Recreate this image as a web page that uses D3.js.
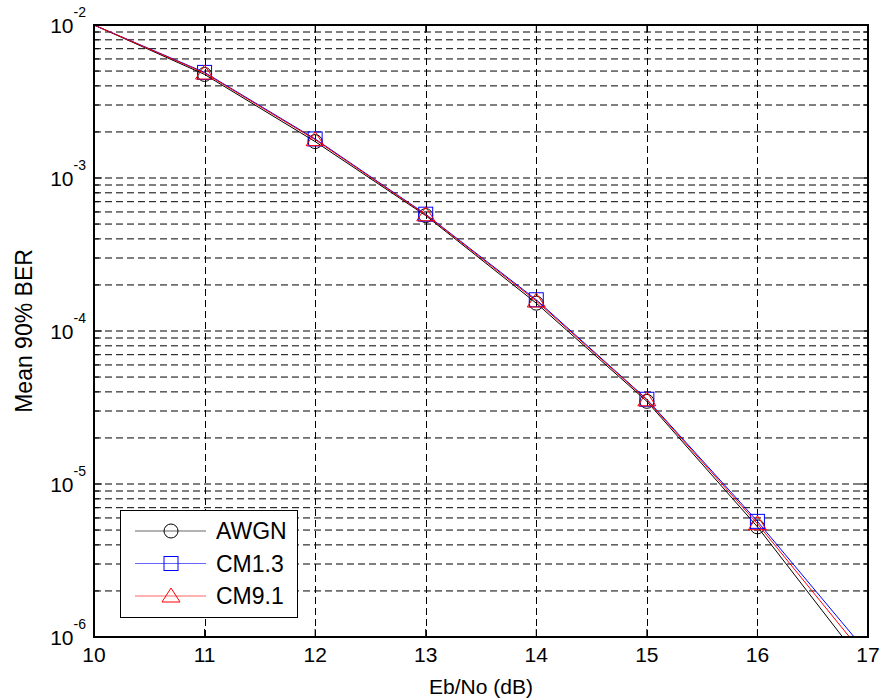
<!DOCTYPE html>
<html>
<head>
<meta charset="utf-8">
<script src="https://cdn.jsdelivr.net/npm/d3@7"></script>
<style>
  body { margin: 0; background: #fff; }
  text { font-family: Arial, "Liberation Sans", Helvetica, sans-serif; fill: #000; }
</style>
</head>
<body>
<svg id="chart" width="882" height="699"></svg>
<script>
// Eb/No sweep (dB) and mean 90% BER for each channel model
const ebno = [10, 11, 12, 13, 14, 15, 16, 17];
const markerEbno = [11, 12, 13, 14, 15, 16];
const awgn = [1e-2, 4.75e-3, 1.73e-3, 5.68e-4, 1.52e-4, 3.47e-5, 5.25e-6, 6.1e-7];
const cm13 = [1e-2, 4.90e-3, 1.80e-3, 5.80e-4, 1.60e-4, 3.58e-5, 5.70e-6, 7.8e-7];
const cm91 = [1e-2, 4.85e-3, 1.78e-3, 5.75e-4, 1.57e-4, 3.55e-5, 5.50e-6, 7.1e-7];
const seriesNames = ["AWGN", "CM1.3", "CM9.1"];
const xTickValues = [10, 11, 12, 13, 14, 15, 16, 17];
const yDecadeExponents = [-6, -5, -4, -3, -2];

const series = [
  { name: seriesNames[0], values: awgn, color: "#000000", marker: "circle" },
  { name: seriesNames[1], values: cm13, color: "#0000ff", marker: "square" },
  { name: seriesNames[2], values: cm91, color: "#ff0000", marker: "triangle" }
];

const W = 882, H = 699;
const m = { left: 94, right: 14, top: 25, bottom: 62 };
const svg = d3.select("#chart");

const x = d3.scaleLinear().domain([10, 17]).range([m.left, W - m.right]);
const y = d3.scaleLog().domain([1e-6, 1e-2]).range([H - m.bottom, m.top]);

const x0 = x.range()[0], x1 = x.range()[1];
const yB = y.range()[0], yT = y.range()[1];

// minor log positions 2..9 within each decade, plus decades
const minorVals = [];
for (let e = -6; e < -2; e++) {
  for (let k = 2; k <= 9; k++) minorVals.push(k * Math.pow(10, e));
}
const decadeVals = yDecadeExponents.map(e => Math.pow(10, e));

// dashed grid
const grid = svg.append("g").attr("stroke", "#000").attr("stroke-width", 1)
  .attr("stroke-dasharray", "7,4").attr("fill", "none");
grid.selectAll("line.hy").data(minorVals.concat(decadeVals.slice(1, -1))).join("line")
  .attr("x1", x0).attr("x2", x1)
  .attr("y1", d => y(d)).attr("y2", d => y(d));
grid.selectAll("line.vx").data(xTickValues.slice(1, -1)).join("line")
  .attr("class", "vx")
  .attr("x1", d => Math.round(x(d)) + 0.5).attr("x2", d => Math.round(x(d)) + 0.5)
  .attr("y1", yT).attr("y2", yB);

// clip for data curves
svg.append("clipPath").attr("id", "plotclip").append("rect")
  .attr("x", x0).attr("y", yT).attr("width", x1 - x0).attr("height", yB - yT);

const line = d3.line().x(d => x(d[0])).y(d => y(d[1]));
const plot = svg.append("g").attr("clip-path", "url(#plotclip)");

function drawMarker(g, type, cx, cy, color) {
  if (type === "circle") {
    g.append("circle").attr("cx", cx).attr("cy", cy).attr("r", 7)
      .attr("fill", "none").attr("stroke", color).attr("stroke-width", 1);
  } else if (type === "square") {
    g.append("rect").attr("x", cx - 7).attr("y", cy - 7).attr("width", 14).attr("height", 14)
      .attr("fill", "none").attr("stroke", color).attr("stroke-width", 1);
  } else {
    g.append("path")
      .attr("d", `M${cx},${cy - 8}L${cx + 9},${cy + 6}L${cx - 9},${cy + 6}Z`)
      .attr("fill", "none").attr("stroke", color).attr("stroke-width", 1);
  }
}

series.forEach(s => {
  const pts = ebno.map((e, i) => [e, s.values[i]]);
  plot.append("path").datum(pts)
    .attr("d", line).attr("fill", "none")
    .attr("stroke", s.color).attr("stroke-width", 1);
  const mg = plot.append("g");
  pts.filter(p => markerEbno.includes(p[0]))
    .forEach(p => drawMarker(mg, s.marker, x(p[0]), y(p[1]), s.color));
});

// axes box
svg.append("rect").attr("x", x0).attr("y", yT).attr("width", x1 - x0).attr("height", yB - yT)
  .attr("fill", "none").attr("stroke", "#000").attr("stroke-width", 2);

// ticks (inward, both sides)
const ticks = svg.append("g").attr("stroke", "#000").attr("stroke-width", 1);
xTickValues.forEach(v => {
  const px = x(v);
  ticks.append("line").attr("x1", px).attr("x2", px).attr("y1", yB).attr("y2", yB - 8);
  ticks.append("line").attr("x1", px).attr("x2", px).attr("y1", yT).attr("y2", yT + 8);
});
decadeVals.forEach(v => {
  const py = y(v);
  ticks.append("line").attr("x1", x0).attr("x2", x0 + 8).attr("y1", py).attr("y2", py);
  ticks.append("line").attr("x1", x1).attr("x2", x1 - 8).attr("y1", py).attr("y2", py);
});
minorVals.forEach(v => {
  const py = y(v);
  ticks.append("line").attr("x1", x0).attr("x2", x0 + 5).attr("y1", py).attr("y2", py);
  ticks.append("line").attr("x1", x1).attr("x2", x1 - 5).attr("y1", py).attr("y2", py);
});

// x tick labels
svg.append("g").selectAll("text").data(xTickValues).join("text")
  .attr("x", d => x(d)).attr("y", yB + 25)
  .attr("text-anchor", "middle").attr("font-size", 21)
  .text(d => d);

// y tick labels: 10 with superscript exponent
yDecadeExponents.forEach(e => {
  const t = svg.append("text")
    .attr("x", x0 - 8).attr("y", y(Math.pow(10, e)) + 8)
    .attr("text-anchor", "end").attr("font-size", 21);
  t.append("tspan").text("10");
  t.append("tspan").attr("font-size", 14).attr("dy", -16).text(String(e));
});

// axis titles
svg.append("text").attr("x", (x0 + x1) / 2).attr("y", H - 5)
  .attr("text-anchor", "middle").attr("font-size", 21).text("Eb/No (dB)");
svg.append("text")
  .attr("transform", `translate(32,${(yT + yB) / 2}) rotate(-90)`)
  .attr("text-anchor", "middle").attr("font-size", 23).text("Mean 90% BER");

// legend
const lg = svg.append("g");
lg.append("rect").attr("x", 120.5).attr("y", 510.5).attr("width", 177).attr("height", 107)
  .attr("fill", "#fff").attr("stroke", "#000").attr("stroke-width", 1);
series.forEach((s, i) => {
  const ly = 531 + i * 32.5;
  lg.append("line").attr("x1", 135).attr("x2", 206).attr("y1", ly).attr("y2", ly)
    .attr("stroke", s.color).attr("stroke-width", 1.2).attr("stroke-opacity", 0.6);
  drawMarker(lg, s.marker, 171, ly, s.color);
  lg.append("text").attr("x", 216).attr("y", ly + 8).attr("font-size", 23).text(s.name);
});
</script>
</body>
</html>
